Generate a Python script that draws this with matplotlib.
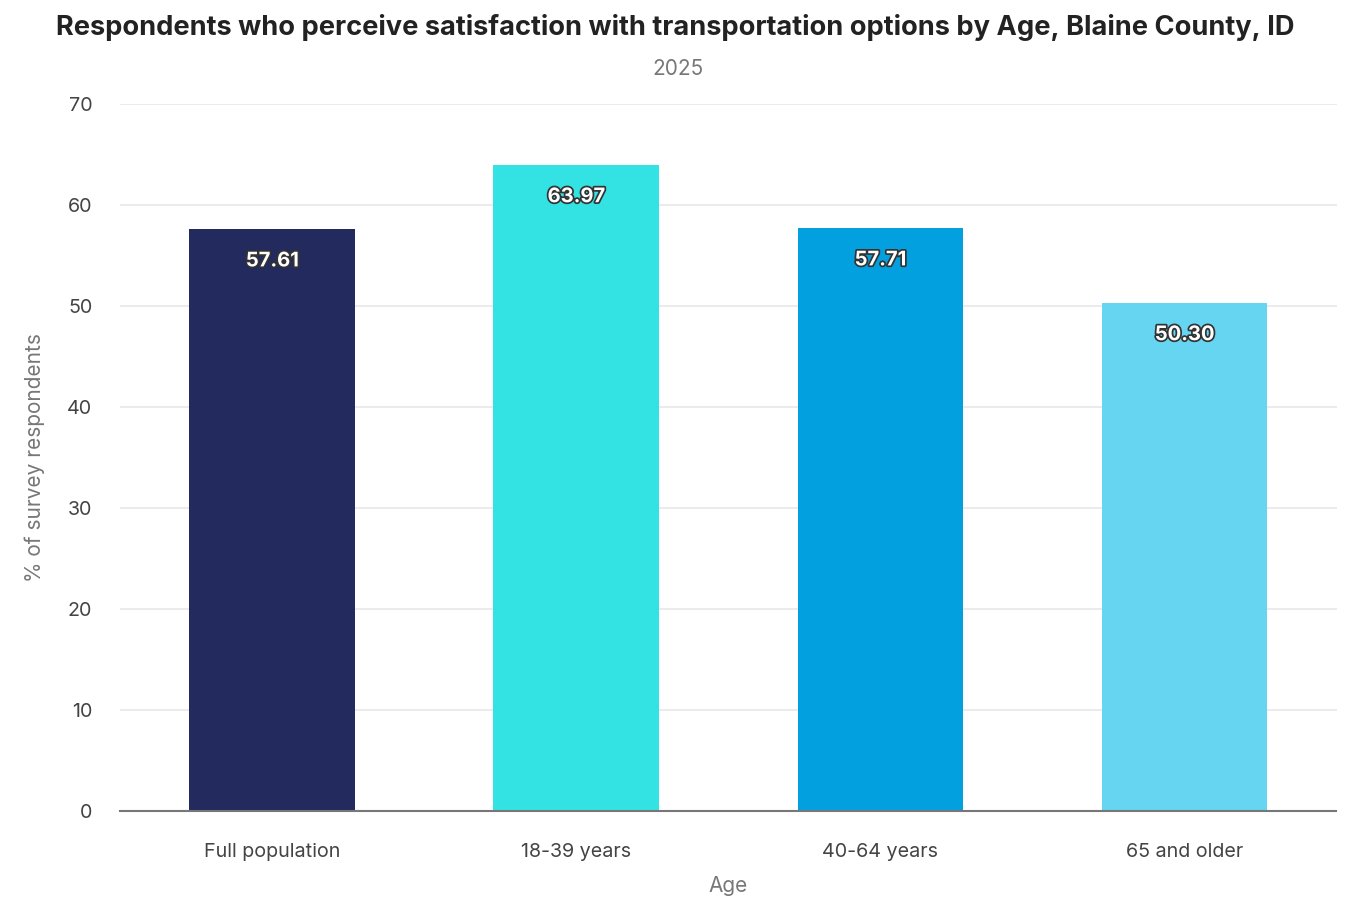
import matplotlib.pyplot as plt
import matplotlib.patheffects as pe

plt.rcParams['font.family'] = ['Inter', 'DejaVu Sans']

categories = ['Full population', '18-39 years', '40-64 years', '65 and older']
values = [57.61, 63.97, 57.71, 50.30]
colors = ['#222A5E', '#33E2E2', '#02A0DE', '#66D5F2']

fig = plt.figure(figsize=(13.5, 9), dpi=100)
ax = fig.add_axes([0.089, 0.099, 0.901, 0.785])

bars = ax.bar(range(len(categories)), values, width=0.545, color=colors, zorder=3)
for b, v in zip(bars, values):
    ax.annotate(f'{v:.2f}', (b.get_x() + b.get_width() / 2, v), xytext=(0, -23),
                textcoords='offset points', ha='center', va='center',
                fontsize=14.5, fontweight='bold', color='white', zorder=4,
                path_effects=[pe.withStroke(linewidth=2.5, foreground='#333333')])

ax.set_xlim(-0.5, 3.5)
ax.set_ylim(0, 70)
ax.set_yticks(range(0, 71, 10))
ax.set_xticks(range(len(categories)))
ax.set_xticklabels(categories)
ax.grid(axis='y', color='#EBEBEB', linewidth=1.5, zorder=0)
for s in ['top', 'right', 'left']:
    ax.spines[s].set_visible(False)
ax.spines['bottom'].set_color('#777777')
ax.spines['bottom'].set_linewidth(1.5)
ax.spines['bottom'].set_zorder(5)
ax.tick_params(axis='both', length=0, labelsize=14.2, labelcolor='#444444')
ax.tick_params(axis='x', pad=23)
ax.tick_params(axis='y', pad=20)

ax.set_xlabel('Age', fontsize=15, color='#777777', labelpad=11)
ax.set_ylabel('% of survey respondents', fontsize=15, color='#777777', labelpad=16)

fig.text(0.5, 0.969, 'Respondents who perceive satisfaction with transportation options by Age, Blaine County, ID',
         ha='center', va='center', fontsize=19.6, fontweight='bold', color='#222222')
fig.text(0.502, 0.923, '2025', ha='center', va='center', fontsize=15, color='#777777')

fig.savefig('out.png', dpi=100)
